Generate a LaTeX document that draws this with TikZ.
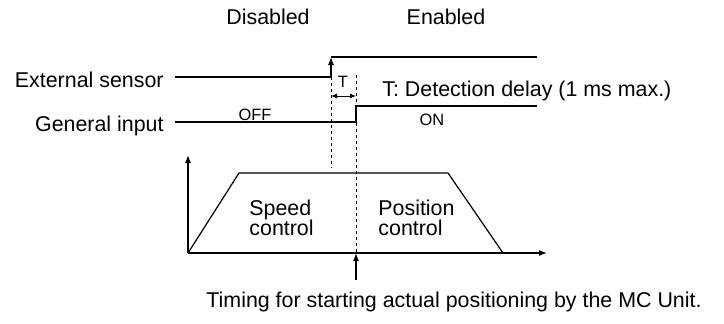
\documentclass[tikz,border=0pt]{standalone}
\usepackage{fontspec}
\setmainfont{Liberation Sans}
\usetikzlibrary{arrows.meta, positioning}
\tikzset{
    lbl/.style={inner sep=0pt, font=\fontsize{10.7}{10}\selectfont},
    smalllbl/.style={inner sep=0pt, font=\fontsize{8.2}{9}\selectfont},
    sig/.style={draw, line width=0.6pt},
    axis/.style={draw, line width=0.6pt, -{Latex[length=4pt, width=3pt]}},
    guide/.style={draw, line width=0.5pt, dash pattern=on 1.5pt off 1.5pt},
    delay/.style={draw, line width=0.5pt, {Latex[length=3pt, width=2.5pt]}-{Latex[length=3pt, width=2.5pt]}},
}

\begin{document}
\begin{tikzpicture}[x=0.5pt, y=-0.5pt]
    \useasboundingbox (0,0) rectangle (724,323);
    \node[lbl, anchor=base] (dis) at (268,24) {Disabled};
    \node[lbl, anchor=base] (en) at (446,24) {Enabled};
    \node[lbl, anchor=base east] (ext) at (164,87) {External sensor};
    \node[lbl, anchor=base east] (gen) at (164,131) {General input};
    \node[lbl, anchor=base west] (tdef) at (382,96) {T: Detection delay (1 ms max.)};
    \node[smalllbl, anchor=base] (tl) at (343,87) {T};
    \node[smalllbl, anchor=base] (off) at (255,120) {OFF};
    \node[smalllbl, anchor=base] (on) at (432,125) {ON};
    \node[lbl, anchor=base west, align=left] (spd) at (249,235) {Speed\\control};
    \node[lbl, anchor=base west, align=left] (pos) at (378,235) {Position\\control};
    \node[lbl, anchor=base] (tim) at (454,307) {Timing for starting actual positioning by the MC Unit.};
    \coordinate (es0) at (175,77);
    \coordinate (es1) at (331,77);
    \coordinate (es2) at (331,57);
    \coordinate (es3) at (537,57);
    \coordinate (gi0) at (175,122);
    \coordinate (gi1) at (356,122);
    \coordinate (gi2) at (356,106);
    \coordinate (gi3) at (537,106);
    \coordinate (ga) at (331,168);
    \coordinate (gb0) at (356,75);
    \coordinate (gb1) at (356,253);
    \coordinate (t0) at (331,96);
    \coordinate (t1) at (356,96);
    \coordinate (o) at (188,253);
    \coordinate (yt) at (188,155);
    \coordinate (xe) at (547,253);
    \coordinate (p1) at (239,173);
    \coordinate (p2) at (448,173);
    \coordinate (p3) at (503,253);
    \coordinate (st) at (356,280);
    \draw[sig] (es0) -- (es1);
    \draw[sig, -{Latex[length=4pt, width=3pt]}] (es1) -- (es2);
    \draw[sig] (es2) -- (es3);
    \draw[sig] (gi0) -- (gi1) -- (gi2) -- (gi3);
    \draw[guide] (es1) -- (ga);
    \draw[guide] (gb0) -- (gb1);
    \draw[delay] (t0) -- (t1);
    \draw[axis] (o) -- (yt);
    \draw[axis] (o) -- (xe);
    \draw[sig] (o) -- (p1) -- (p2) -- (p3);
    \draw[axis] (st) -- (gb1);
\end{tikzpicture}
\end{document}
